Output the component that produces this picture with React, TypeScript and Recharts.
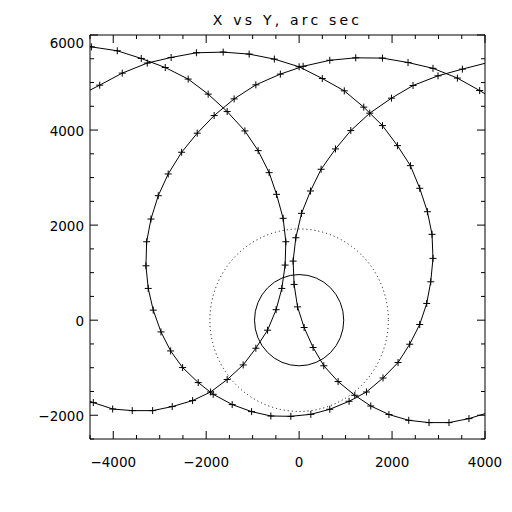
import { ScatterChart, Scatter, XAxis, YAxis, ReferenceArea } from "recharts";

const xDomain = [-4500, 4000];
const yDomain = [-2500, 6000];
const xTicks = [-4500, -4000, -3500, -3000, -2500, -2000, -1500, -1000, -500, 0, 500, 1000, 1500, 2000, 2500, 3000, 3500, 4000];
const yTicks = [-2500, -2000, -1500, -1000, -500, 0, 500, 1000, 1500, 2000, 2500, 3000, 3500, 4000, 4500, 5000, 5500, 6000];

// solar limb and 2 R_sun, arc sec, centred on disk centre
const limbCenter = [0, 0];
const limbRadii = [960, 1920];

// tracks, arc sec (first/last points sit just outside the box)
const trackAX = [-5010, -4470, -3913, -3397, -2881, -2387, -1957, -1548, -1167, -882, -645, -486, -344, -286, -301, -372, -495, -679, -931, -1204, -1548, -1905, -2292, -2731, -3152, -3591, -4012, -4429, -4830];
const trackAY = [5830, 5750, 5668, 5506, 5316, 5072, 4756, 4389, 3982, 3567, 3104, 2648, 2143, 1650, 1159, 668, 221, -211, -590, -942, -1249, -1511, -1692, -1818, -1903, -1903, -1869, -1734, -1570];

const trackBX = [-4780, -4291, -3806, -3268, -2754, -2210, -1634, -1075, -533, 0, 499, 972, 1391, 1793, 2116, 2395, 2595, 2761, 2860, 2881, 2832, 2746, 2595, 2380, 2129, 1806, 1449, 1075, 660, 252, -178, -608, -1023, -1440, -1849, -2171, -2507, -2765, -2973, -3139, -3247, -3296, -3281, -3188, -3032, -2817, -2528, -2193, -1828, -1398, -931, -404, 86, 660, 1219, 1793, 2344, 2881, 3406, 3885, 4360];
const trackBY = [4700, 4945, 5198, 5409, 5527, 5626, 5640, 5598, 5493, 5331, 5084, 4825, 4482, 4094, 3672, 3251, 2775, 2282, 1806, 1300, 807, 352, -91, -506, -891, -1216, -1511, -1707, -1875, -1981, -2023, -2016, -1924, -1776, -1559, -1313, -997, -647, -247, 211, 668, 1144, 1650, 2128, 2619, 3076, 3533, 3934, 4305, 4656, 4951, 5177, 5341, 5468, 5520, 5514, 5421, 5299, 5093, 4831, 4550];

const trackCX = [4100, 3513, 2989, 2451, 1987, 1520, 1112, 783, 473, 245, 52, -71, -129, -108, -34, 108, 301, 531, 839, 1198, 1542, 1933, 2359, 2795, 3225, 3655, 4085];
const trackCY = [5430, 5282, 5141, 4937, 4671, 4355, 3989, 3603, 3175, 2718, 2248, 1734, 1243, 752, 280, -154, -575, -959, -1292, -1580, -1806, -1985, -2107, -2155, -2155, -2071, -1940];

const zip = (xs: number[], ys: number[]) => xs.map((x, i) => ({ x, y: ys[i] }));

const W = 512;
const H = 512;
const margin = { top: 34, right: 26, bottom: 43, left: 30 };
const yAxisWidth = 60;
const xAxisHeight = 30;
const plotLeft = margin.left + yAxisWidth;
const plotRight = W - margin.right - 1;
const plotTop = margin.top + 1;
const plotBottom = H - margin.bottom - xAxisHeight;

const FONT = '"DejaVu Sans", sans-serif';
const fmt = (v: number) => (v < 0 ? "\u2212" + Math.abs(v) : String(v));
const isMajor = (v: number) => v % 2000 === 0;

const PlusMark = (props: any) => {
  const { cx, cy } = props;
  if (cx == null || cy == null) return null;
  return (
    <path
      d={`M${cx - 3.5},${cy}H${cx + 3.5}M${cx},${cy - 3.5}V${cy + 3.5}`}
      stroke="#000"
      strokeWidth={1}
      fill="none"
    />
  );
};

const BottomTick = ({ x, payload }: any) => {
  const v = payload.value;
  const major = isMajor(v);
  return (
    <g>
      <line x1={x} x2={x} y1={plotBottom} y2={plotBottom - (major ? 8 : 4)} stroke="#000" />
      {major && (
        <text x={x} y={plotBottom + 28} textAnchor="middle" fontFamily={FONT} fontSize={13.5} fill="#000">
          {fmt(v)}
        </text>
      )}
    </g>
  );
};

const TopTick = ({ x, payload }: any) => (
  <line x1={x} x2={x} y1={plotTop} y2={plotTop + (isMajor(payload.value) ? 8 : 4)} stroke="#000" />
);

const LeftTick = ({ y, payload }: any) => {
  const v = payload.value;
  const major = isMajor(v);
  const ly = v === yDomain[1] ? y + 12.5 : y + 6;
  return (
    <g>
      <line x1={plotLeft} x2={plotLeft + (major ? 8 : 4)} y1={y} y2={y} stroke="#000" />
      {major && (
        <text x={plotLeft - 6} y={ly} textAnchor="end" fontFamily={FONT} fontSize={13.5} fill="#000">
          {fmt(v)}
        </text>
      )}
    </g>
  );
};

const RightTick = ({ y, payload }: any) => (
  <line x1={plotRight} x2={plotRight - (isMajor(payload.value) ? 8 : 4)} y1={y} y2={y} stroke="#000" />
);

const circleShape = (dash?: string) => (p: any) => (
  <ellipse
    cx={p.x + p.width / 2}
    cy={p.y + p.height / 2}
    rx={p.width / 2}
    ry={p.height / 2}
    fill="none"
    stroke="#000"
    strokeWidth={1}
    strokeDasharray={dash}
  />
);

const axisLine = { stroke: "#000", strokeWidth: 1 };

export default function App() {
  return (
    <div style={{ position: "absolute", left: 0, top: 0, width: W, height: H, background: "#fff" }}>
      <div
        style={{
          position: "absolute",
          left: plotLeft,
          top: 13,
          width: plotRight - plotLeft,
          textAlign: "center",
          fontFamily: FONT,
          fontSize: 14,
          lineHeight: "14px",
          letterSpacing: 3.2,
          color: "#000",
        }}
      >
        X vs Y, arc sec
      </div>
      <ScatterChart width={W} height={H} margin={margin}>
        <XAxis
          type="number"
          dataKey="x"
          domain={xDomain}
          ticks={xTicks}
          allowDataOverflow
          interval={0}
          height={xAxisHeight}
          tickLine={false}
          axisLine={axisLine}
          tick={BottomTick}
        />
        <XAxis
          xAxisId="top"
          orientation="top"
          type="number"
          dataKey="x"
          domain={xDomain}
          ticks={xTicks}
          allowDataOverflow
          interval={0}
          height={1}
          tickLine={false}
          axisLine={axisLine}
          tick={TopTick}
        />
        <YAxis
          type="number"
          dataKey="y"
          domain={yDomain}
          ticks={yTicks}
          allowDataOverflow
          interval={0}
          width={yAxisWidth}
          tickLine={false}
          axisLine={axisLine}
          tick={LeftTick}
        />
        <YAxis
          yAxisId="right"
          orientation="right"
          type="number"
          dataKey="y"
          domain={yDomain}
          ticks={yTicks}
          allowDataOverflow
          interval={0}
          width={1}
          tickLine={false}
          axisLine={axisLine}
          tick={RightTick}
        />
        <ReferenceArea
          x1={limbCenter[0] - limbRadii[1]}
          x2={limbCenter[0] + limbRadii[1]}
          y1={limbCenter[1] - limbRadii[1]}
          y2={limbCenter[1] + limbRadii[1]}
          shape={circleShape("1 3")}
        />
        <ReferenceArea
          x1={limbCenter[0] - limbRadii[0]}
          x2={limbCenter[0] + limbRadii[0]}
          y1={limbCenter[1] - limbRadii[0]}
          y2={limbCenter[1] + limbRadii[0]}
          shape={circleShape()}
        />
        <Scatter
          data={zip(trackAX, trackAY)}
          fill="#000"
          line={{ stroke: "#000", strokeWidth: 1 }}
          lineType="joint"
          shape={PlusMark}
          isAnimationActive={false}
        />
        <Scatter
          data={zip(trackBX, trackBY)}
          fill="#000"
          line={{ stroke: "#000", strokeWidth: 1 }}
          lineType="joint"
          shape={PlusMark}
          isAnimationActive={false}
        />
        <Scatter
          xAxisId="top"
          yAxisId="right"
          data={zip(trackCX, trackCY)}
          fill="#000"
          line={{ stroke: "#000", strokeWidth: 1 }}
          lineType="joint"
          shape={PlusMark}
          isAnimationActive={false}
        />
      </ScatterChart>
    </div>
  );
}
